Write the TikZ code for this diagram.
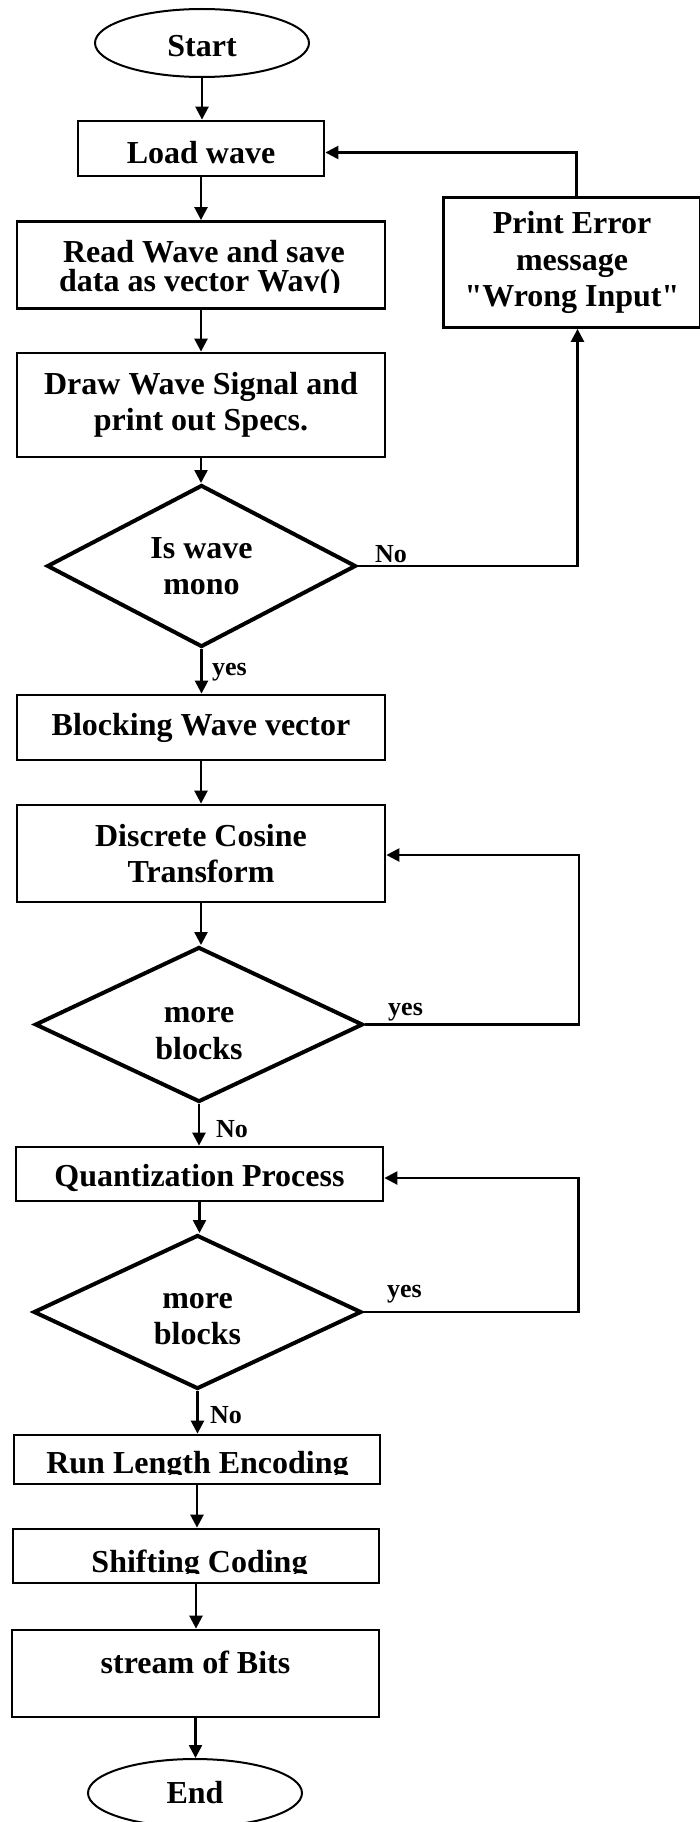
\documentclass[tikz,border=0pt]{standalone}
\usepackage{fontspec}
\setmainfont{Liberation Serif}
\usetikzlibrary{shapes.geometric,arrows.meta,calc}

% straight double quote, bypassing the TeX ligature mapping
\newcommand\sq{\XeTeXglyph\XeTeXglyphindex "quotedbl" \relax}
% two-line label whose first row is given a fixed height
\newcommand\twolines[3]{\begin{tabular}{@{}c@{}}\rule{0pt}{#1}#2\\#3\end{tabular}}

\tikzset{
  txt/.style={font=\fontsize{32}{36.5}\selectfont\bfseries, align=center, inner sep=0pt},
  procbox/.style={txt, draw, rectangle, line width=2.8pt},
  term/.style={txt, draw, ellipse, line width=2pt, minimum width=214pt, minimum height=68pt},
  decision/.style={txt, draw, diamond, line width=4pt},
  boxtext/.style={font=\fontsize{32}{36}\selectfont\bfseries, inner sep=0pt, anchor=base},
  flow/.style={line width=2.5pt, -{Triangle[length=13pt,width=13pt]}},
  tag/.style={font=\fontsize{26}{30}\selectfont\bfseries, inner sep=0pt, anchor=base west},
}

\begin{document}
\begin{tikzpicture}[x=1pt,y=-1pt]
  \useasboundingbox (0,0) rectangle (700,1822);
  \fill[white] (0,0) rectangle (700,1822);
  \clip (0,0) rectangle (700,1822);

  % main column
  \node[term, text height=28pt, text depth=0pt] (start) at (202,43) {Start};
  \node[procbox, minimum width=246pt, minimum height=55pt, text height=30pt, text depth=0pt] (load) at (201,148.5) {Load wave};

  \node[procbox, minimum width=368pt, minimum height=87pt] (read) at (201,265) {};
  \node[boxtext] (readtop) at (204,262) {Read Wave and save};
  \begin{scope}
    \clip (18,222) rectangle (384,292.5);
    \node[boxtext] (readbot) at (200,291.5) {data as vector Wav()};
  \end{scope}

  \node[procbox, minimum width=368pt, minimum height=104pt] (plot) at (201,405) {Draw Wave Signal and\\print out Specs.};
  \node[decision, minimum width=309pt, minimum height=162pt, aspect=1.9] (d1) at (201.5,566) {Is wave\\mono};

  \node[procbox, minimum width=257pt, minimum height=130pt] (err) at (572,262.5) {Print Error\\message\\\sq Wrong Input\sq};

  \node[procbox, minimum width=368pt, minimum height=65pt] (block) at (201,727.5) {Blocking Wave vector};
  \node[procbox, minimum width=368pt, minimum height=97pt] (dct) at (201,853.5) {Discrete Cosine\\Transform};
  \node[decision, minimum width=328pt, minimum height=155pt, aspect=2.12] (d2) at (199,1024.5) {\twolines{43.5pt}{more}{blocks}};

  \node[procbox, minimum width=367pt, minimum height=54pt, text height=24pt, text depth=0pt] (quant) at (199.5,1174) {Quantization Process};
  \node[decision, minimum width=328pt, minimum height=154pt, aspect=2.13] (d3) at (197.5,1312) {\twolines{39.5pt}{more}{blocks}};

  \node[procbox, minimum width=366pt, minimum height=49pt] (run) at (197,1459.5) {};
  \begin{scope}
    \clip (15,1437) rectangle (379,1474);
    \node[boxtext] (runtext) at (197.5,1473) {Run Length Encoding};
  \end{scope}

  \node[procbox, minimum width=366pt, minimum height=54pt] (shift) at (196,1556) {};
  \begin{scope}
    \clip (14,1531) rectangle (378,1573);
    \node[boxtext] (shifttext) at (199.5,1572) {Shifting Coding};
  \end{scope}

  \node[procbox, minimum width=367pt, minimum height=87pt, text height=22pt, text depth=22pt] (stream) at (195.5,1673.5) {stream of Bits};
  \node[term] (end) at (195,1793) {End};

  % straight connectors
  \draw[flow] (start.south) -- (start.south |- load.north);
  \draw[flow] (load.south) -- (load.south |- read.north);
  \draw[flow] (read.south) -- (read.south |- plot.north);
  \draw[flow] (plot.south) -- (plot.south |- d1.north);
  \draw[flow] (d1.south) -- (d1.south |- block.north);
  \draw[flow] (block.south) -- (block.south |- dct.north);
  \draw[flow] (dct.south) -- (dct.south |- d2.north);
  \draw[flow] (d2.south) -- (d2.south |- quant.north);
  \draw[flow] (quant.south) -- (quant.south |- d3.north);
  \draw[flow] (d3.south) -- (d3.south |- run.north);
  \draw[flow] (run.south) -- (run.south |- shift.north);
  \draw[flow] (shift.south) -- (shift.south |- stream.north);
  \draw[flow] (stream.south) -- (stream.south |- end.north);

  % loops on the right
  \draw[flow] (d1.east) -| ([xshift=5.5pt]err.south);
  \draw[flow] ([xshift=4.5pt]err.north) |- ([yshift=-4pt]load.east);
  \draw[flow] (d2.east) -- ++(214,0) |- ([yshift=-1.5pt]dct.east);
  \draw[flow] (d3.east) -- ++(215,0) |- ([yshift=-4pt]quant.east);

  % branch labels
  \node[tag] (no1) at (375,562) {No};
  \node[tag] (yes1) at (212,675) {yes};
  \node[tag] (yes2) at (388,1015) {yes};
  \node[tag] (no2) at (216,1137) {No};
  \node[tag] (yes3) at (387,1297) {yes};
  \node[tag] (no3) at (210,1423) {No};
\end{tikzpicture}
\end{document}
